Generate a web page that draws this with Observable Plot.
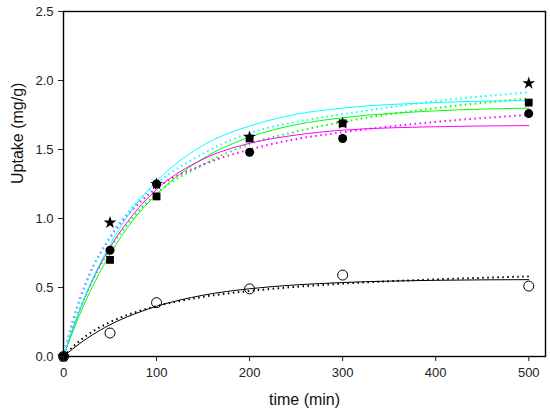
<!DOCTYPE html>
<html>
<head>
<meta charset="utf-8">
<script src="https://cdn.jsdelivr.net/npm/d3@7"></script>
<script src="https://cdn.jsdelivr.net/npm/@observablehq/plot@0.6"></script>
<style>
  html, body { margin: 0; padding: 0; background: #fff; }
</style>
</head>
<body>
<div id="chart"></div>
<script>
// Measured data (time in min, uptake in mg/g)
const times = [0, 50, 100, 200, 300, 500];
const starVals = [0, 0.97, 1.25, 1.59, 1.69, 1.98];
const squareVals = [0, 0.70, 1.16, 1.58, 1.69, 1.84];
const dotVals = [0, 0.77, 1.25, 1.48, 1.58, 1.76];
const openVals = [0, 0.17, 0.39, 0.49, 0.59, 0.51];

// Fitted curves
const fitTimes = [0, 10, 25, 50, 75, 100, 150, 200, 250, 300, 400, 500];
const cyanSolid = [0, 0.20, 0.465, 0.81, 1.075, 1.27, 1.53, 1.67, 1.755, 1.80, 1.84, 1.855];
const cyanDotted = [0, 0.25, 0.54, 0.87, 1.09, 1.25, 1.47, 1.62, 1.70, 1.755, 1.85, 1.915];
const greenSolid = [0, 0.18, 0.42, 0.74, 0.99, 1.175, 1.435, 1.59, 1.68, 1.73, 1.78, 1.80];
const greenDotted = [0, 0.21, 0.46, 0.78, 1.01, 1.18, 1.39, 1.54, 1.63, 1.70, 1.80, 1.87];
const magentaSolid = [0, 0.20, 0.46, 0.79, 1.03, 1.21, 1.43, 1.545, 1.605, 1.64, 1.665, 1.673];
const magentaDotted = [0, 0.26, 0.55, 0.86, 1.07, 1.22, 1.39, 1.50, 1.575, 1.625, 1.70, 1.75];
const blackSolid = [0, 0.056, 0.13, 0.23, 0.305, 0.364, 0.444, 0.491, 0.519, 0.536, 0.552, 0.557];
const blackDotted = [0, 0.07, 0.153, 0.249, 0.316, 0.365, 0.432, 0.475, 0.505, 0.528, 0.559, 0.58];

const xTicks = [0, 100, 200, 300, 400, 500];
const yTicks = [0, 0.5, 1.0, 1.5, 2.0, 2.5];
const xLabel = "time (min)";
const yLabel = "Uptake (mg/g)";

const rows = (ys) => fitTimes.map((t, i) => ({t, q: ys[i]}));
const pts = (ys) => times.map((t, i) => ({t, q: ys[i]}));

const solid = (ys, color) => Plot.line(rows(ys), {x: "t", y: "q", stroke: color, strokeWidth: 1, curve: "monotone-x"});
const dotted = (ys, color) => Plot.line(rows(ys), {x: "t", y: "q", stroke: color, strokeWidth: 2, strokeDasharray: "1.5,3.5", strokeLinecap: "butt", curve: "monotone-x"});

const chart = Plot.plot({
  width: 550,
  height: 418,
  marginLeft: 63,
  marginRight: 5,
  marginTop: 11,
  marginBottom: 62,
  style: {fontFamily: "'Liberation Sans', Arial, sans-serif", fontSize: "13px", color: "#222", background: "#fff"},
  x: {domain: [0, 518]},
  y: {domain: [0, 2.5]},
  marks: [
    solid(blackSolid, "#000"),
    dotted(blackDotted, "#000"),
    solid(greenSolid, "#00ff00"),
    dotted(greenDotted, "#00ff00"),
    solid(magentaSolid, "#ff00ff"),
    dotted(magentaDotted, "#ff00ff"),
    solid(cyanSolid, "#00ffff"),
    dotted(cyanDotted, "#00ffff"),
    Plot.dot(pts(openVals), {x: "t", y: "q", r: 5, stroke: "#000", strokeWidth: 1, fill: "none"}),
    Plot.dot(pts(starVals), {x: "t", y: "q", r: 4, fill: "#000", symbol: "star"}),
    Plot.dot(pts(squareVals), {x: "t", y: "q", r: 4.4, fill: "#000", symbol: "square"}),
    Plot.dot(pts(dotVals), {x: "t", y: "q", r: 4.5, fill: "#000", symbol: "circle"}),
    Plot.frame({stroke: "#000", strokeWidth: 1.4}),
    Plot.axisX({ticks: xTicks, tickSize: 5, tickPadding: 6, label: null, fontSize: 13}),
    Plot.axisY({ticks: yTicks, tickSize: 5, tickPadding: 5, tickFormat: d3.format(".1f"), label: null, fontSize: 13}),
    Plot.text([xLabel], {frameAnchor: "bottom", dy: 48, fontSize: 16, fill: "#111"}),
    Plot.text([yLabel], {frameAnchor: "left", dx: -46, rotate: -90, fontSize: 16, fill: "#111"})
  ]
});
document.getElementById("chart").appendChild(chart);
</script>
</body>
</html>
